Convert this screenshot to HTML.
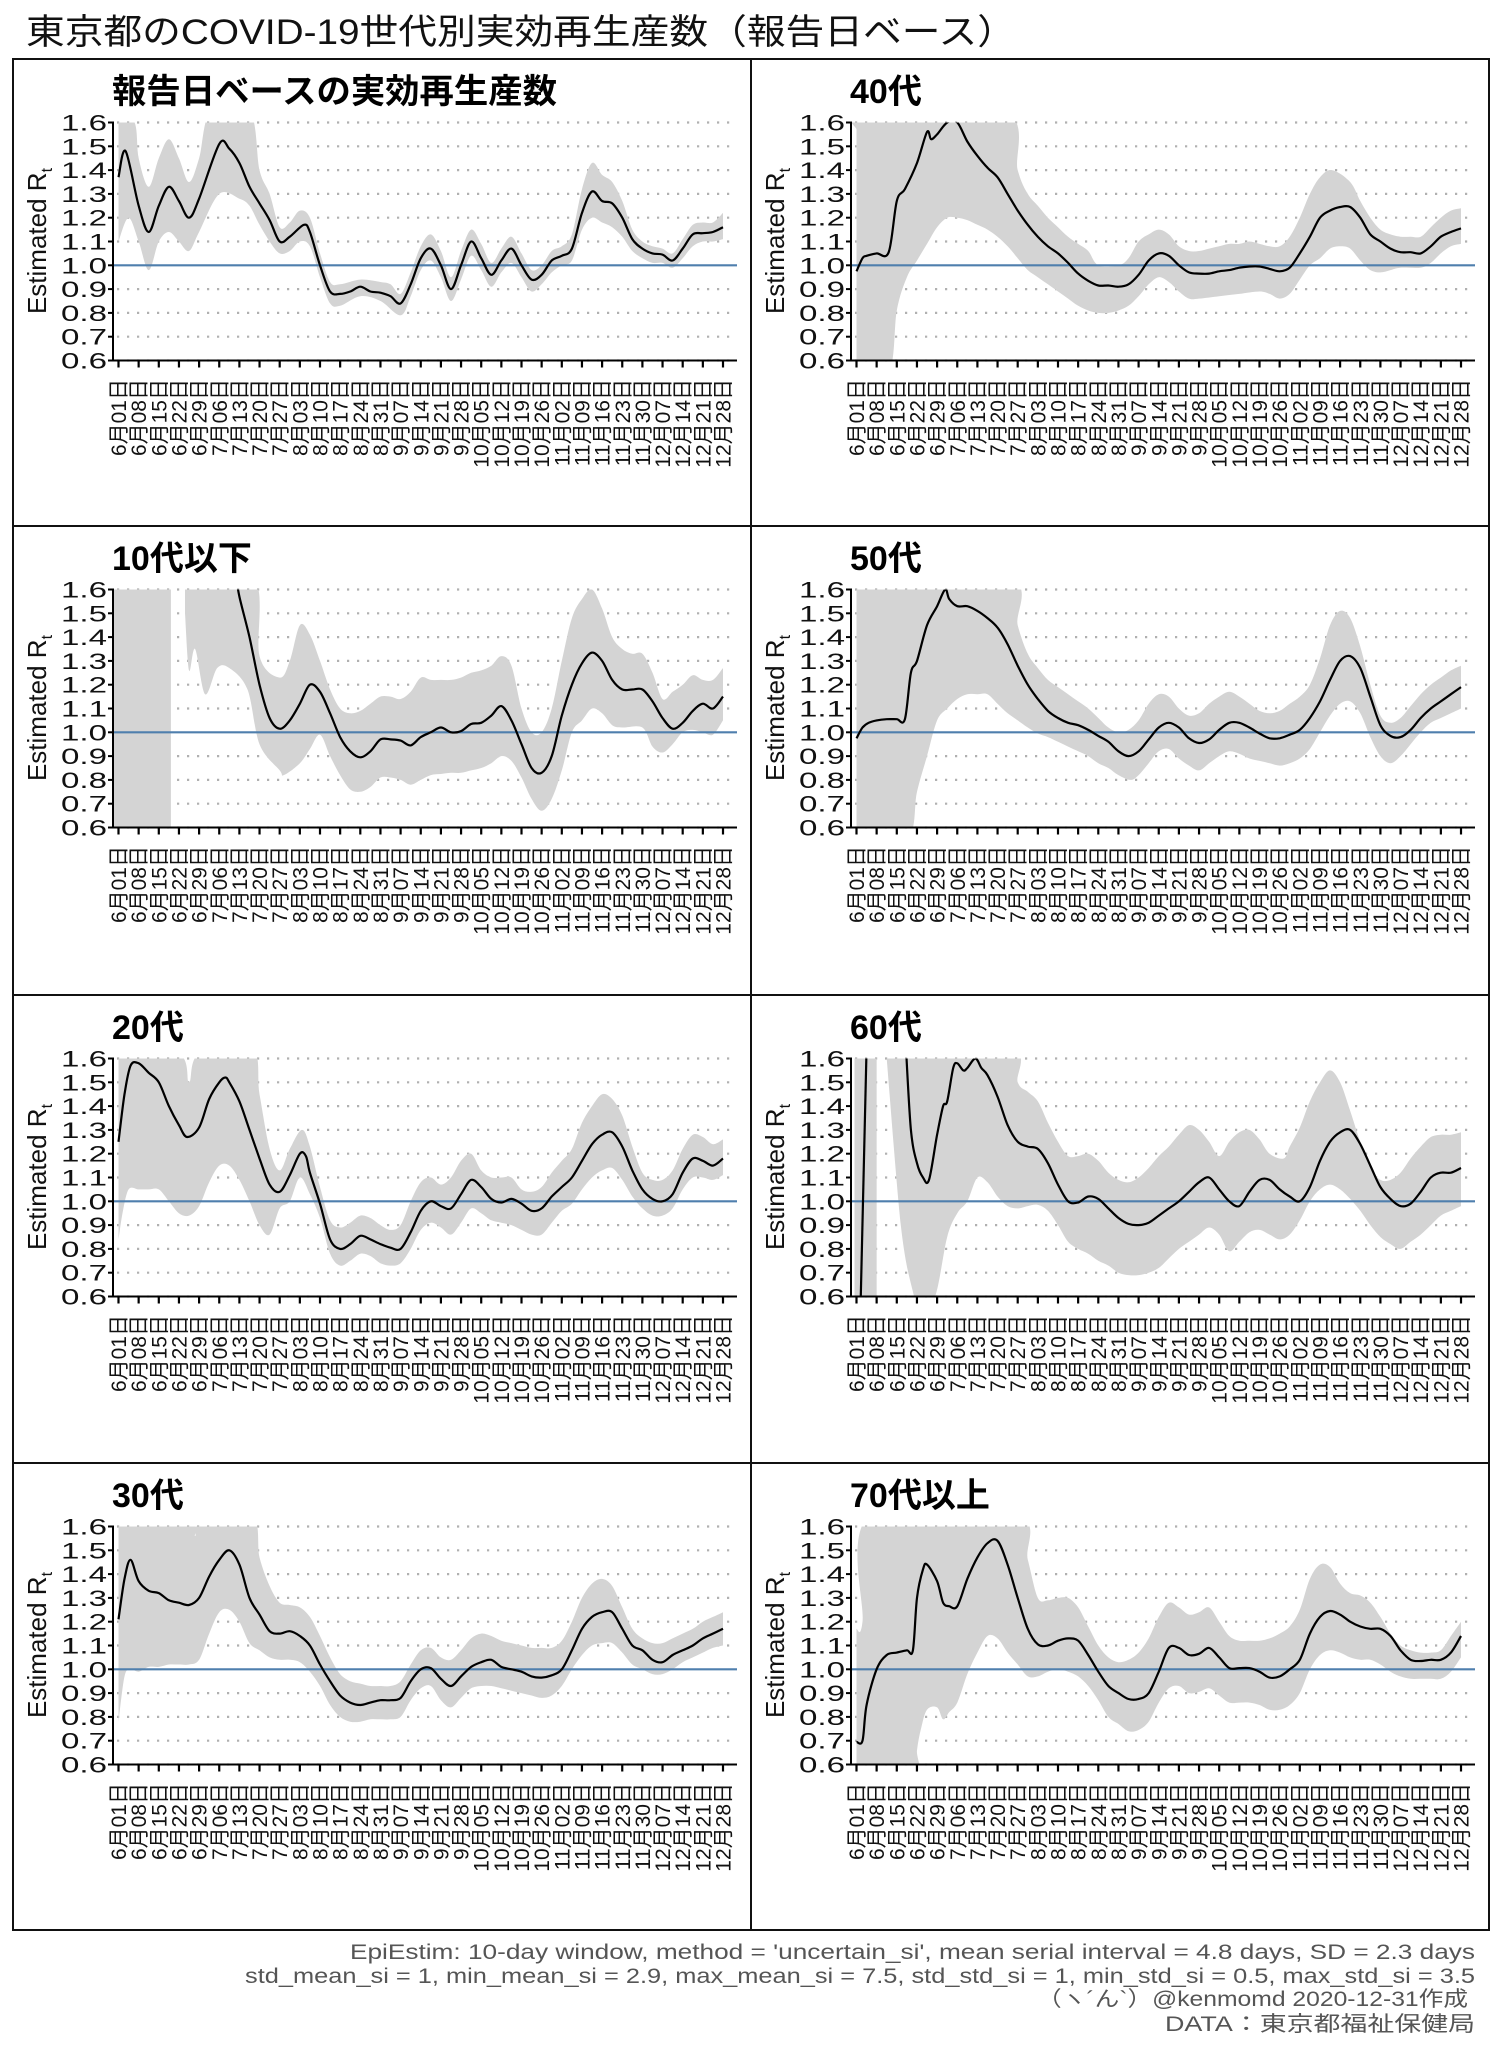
<!DOCTYPE html>
<html><head><meta charset="utf-8"><style>
html,body{margin:0;padding:0;background:#fff;}
svg{display:block;}
text{font-family:"Liberation Sans","Noto Sans CJK JP",sans-serif;}
</style></head><body>
<svg id="s" width="1502" height="2048" viewBox="0 0 1502 2048" xmlns="http://www.w3.org/2000/svg">
<rect width="1502" height="2048" fill="#fff"/>
<text x="26" y="44" font-size="35" textLength="990" lengthAdjust="spacingAndGlyphs" fill="#111">東京都のCOVID-19世代別実効再生産数（報告日ベース）</text>
<g id="panels"></g>
<rect x="13" y="59" width="1476" height="1871" fill="none" stroke="#111" stroke-width="2"/>
<line x1="751" y1="59" x2="751" y2="1930" stroke="#111" stroke-width="2"/>
<line x1="13" y1="526" x2="1489" y2="526" stroke="#111" stroke-width="2"/>
<line x1="13" y1="995" x2="1489" y2="995" stroke="#111" stroke-width="2"/>
<line x1="13" y1="1463" x2="1489" y2="1463" stroke="#111" stroke-width="2"/>
<g fill="#555" font-size="21" text-anchor="end">
<text x="1475" y="1959" textLength="1125" lengthAdjust="spacingAndGlyphs">EpiEstim: 10-day window, method = 'uncertain_si', mean serial interval = 4.8 days, SD = 2.3 days</text>
<text x="1475" y="1983" textLength="1230" lengthAdjust="spacingAndGlyphs">std_mean_si = 1, min_mean_si = 2.9, max_mean_si = 7.5,  std_std_si = 1, min_std_si = 0.5, max_std_si = 3.5</text>
<text x="1468" y="2006" textLength="431" lengthAdjust="spacingAndGlyphs">（ヽ´ん`）@kenmomd 2020-12-31作成</text>
<text x="1475" y="2031" textLength="310" lengthAdjust="spacingAndGlyphs">DATA：東京都福祉保健局</text>
</g>
</svg>
<script>
(function(){
var NS="http://www.w3.org/2000/svg";
function P(s){return s.trim().split(/\s+/).map(function(t){return t.split(':').map(Number);});}
var panels=[
{t:"報告日ベースの実効再生産数",w:445,r:0,c:0,
 lines:["0:1.37 0.35:1.48 1:1.25 1.5:1.14 2:1.25 2.5:1.33 3:1.27 3.5:1.2 4:1.28 5:1.51 5.5:1.49 6:1.43 6.5:1.33 7:1.26 7.5:1.19 8:1.1 8.5:1.12 9.2:1.17 9.5:1.14 10:1 10.5:0.89 11:0.88 11.5:0.89 12:0.91 12.5:0.89 13:0.885 13.5:0.87 14:0.84 14.5:0.92 15:1.03 15.5:1.07 16:1 16.5:0.9 17:1 17.5:1.1 18:1.03 18.5:0.96 19:1.02 19.5:1.07 20:1 20.5:0.94 21:0.96 21.5:1.02 22:1.04 22.5:1.07 23:1.22 23.5:1.31 24:1.27 24.5:1.26 25:1.2 25.5:1.11 26:1.07 26.5:1.05 27:1.045 27.5:1.02 28:1.07 28.5:1.13 29:1.135 29.5:1.14 30:1.16"],
 bands:[{hi:"0:1.65 0.8:1.6 1:1.45 1.5:1.33 2:1.45 2.5:1.53 3:1.45 3.5:1.35 4:1.45 4.6:1.65 6.5:1.65 7:1.4 7.5:1.3 8:1.16 8.5:1.18 9:1.23 9.5:1.2 10:1.05 10.5:0.93 11:0.92 12:0.94 13:0.93 13.5:0.92 14:0.88 14.5:0.97 15:1.08 15.5:1.13 16:1.06 16.5:0.95 17:1.06 17.5:1.15 18:1.09 18.5:1.01 19:1.07 19.5:1.12 20:1.05 20.5:0.98 21:1 21.5:1.06 22:1.08 22.5:1.13 23:1.32 23.5:1.43 24:1.38 24.5:1.35 25:1.27 25.5:1.15 26:1.1 26.5:1.08 27:1.07 27.5:1.05 28:1.11 28.5:1.17 29:1.18 29.5:1.18 30:1.22",
 lo:"0:1.1 0.5:1.2 1:1.1 1.5:0.98 2:1.1 2.5:1.14 3:1.1 3.5:1.06 4:1.14 5:1.3 6:1.28 6.5:1.25 7:1.17 7.5:1.1 8:1.05 8.5:1.06 9:1.1 9.5:1.08 10:0.95 10.5:0.84 11:0.83 12:0.87 13:0.85 14:0.79 14.5:0.87 15:0.98 15.5:1.02 16:0.95 16.5:0.85 17:0.94 17.5:1.04 18:0.98 18.5:0.91 19:0.97 19.5:1.01 20:0.95 20.5:0.89 21:0.92 21.5:0.97 22:1 22.5:1.02 23:1.15 23.5:1.2 24:1.18 24.5:1.16 25:1.12 25.5:1.06 26:1.03 26.5:1.01 27:1.01 27.5:0.99 28:1.03 28.5:1.08 29:1.1 29.5:1.1 30:1.11"}]},
{t:"40代",r:0,c:1,
 lines:["0:0.975 0.3:1.03 0.5:1.04 1:1.05 1.6:1.055 2:1.27 2.4:1.32 3:1.43 3.5:1.56 3.7:1.53 4:1.55 4.5:1.6 5:1.6 5.5:1.52 6:1.46 6.5:1.41 7:1.37 7.5:1.3 8:1.23 8.5:1.17 9:1.12 9.5:1.08 10:1.05 10.5:1.01 11:0.965 11.5:0.935 12:0.915 12.5:0.915 13:0.91 13.5:0.92 14:0.96 14.5:1.02 15:1.05 15.5:1.04 16:1 16.5:0.97 17:0.965 17.5:0.965 18:0.975 18.5:0.98 19:0.99 19.5:0.995 20:0.995 20.5:0.985 21:0.975 21.5:0.99 22:1.05 22.5:1.12 23:1.2 23.5:1.23 24:1.245 24.5:1.245 25:1.2 25.5:1.13 26:1.1 26.5:1.07 27:1.055 27.5:1.055 28:1.05 28.5:1.08 29:1.12 29.5:1.14 30:1.155"],
 bands:[{hi:"0:1.57 0.2:1.65 7.3:1.65 8:1.4 8.5:1.3 9:1.25 9.5:1.2 10:1.16 10.5:1.12 11:1.09 11.5:1.06 12:1 13:1 13.5:1.03 14:1.1 14.5:1.13 15:1.15 15.5:1.13 16:1.08 16.5:1.06 17:1.06 17.5:1.07 18:1.08 18.5:1.09 19:1.09 19.5:1.1 20:1.09 20.5:1.08 21:1.08 21.5:1.12 22:1.2 22.5:1.3 23:1.37 23.6:1.4 24.5:1.35 25:1.27 25.5:1.2 26:1.15 26.5:1.13 27:1.12 27.5:1.12 28:1.12 28.5:1.16 29:1.2 29.5:1.23 30:1.24",
 lo:"0:0.55 1.6:0.55 2:0.81 2.5:0.95 3:1.02 3.5:1.09 4:1.16 4.5:1.2 5:1.2 5.5:1.19 6:1.17 6.5:1.15 7:1.12 7.5:1.08 8:1.03 8.5:0.98 9:0.95 9.5:0.92 10:0.89 10.5:0.86 11:0.83 11.5:0.81 12:0.8 12.5:0.8 13:0.81 13.5:0.83 14:0.87 14.5:0.92 15:0.95 15.5:0.93 16:0.89 16.5:0.86 17:0.86 18:0.87 19:0.88 20:0.89 20.5:0.88 21:0.86 21.5:0.88 22:0.94 22.5:1 23:1.03 23.5:1.07 24:1.08 24.5:1.07 25:1.02 25.5:0.98 26:0.97 26.5:0.98 27:0.99 28:0.99 28.5:1.01 29:1.05 29.5:1.08 30:1.09"}]},
{t:"10代以下",r:1,c:0,
 lines:["5.85:1.65 6:1.57 6.5:1.4 7:1.2 7.5:1.06 8:1.015 8.5:1.05 9:1.12 9.5:1.2 10:1.17 10.5:1.08 11:0.98 11.5:0.92 12:0.895 12.5:0.92 13:0.97 13.5:0.97 14:0.965 14.5:0.945 15:0.98 15.5:1 16:1.02 16.5:1 17:1.005 17.5:1.035 18:1.04 18.5:1.07 19:1.11 19.5:1.05 20:0.95 20.5:0.85 21:0.83 21.5:0.9 22:1.07 22.5:1.2 23:1.29 23.5:1.335 24:1.3 24.5:1.22 25:1.18 25.5:1.18 26:1.18 26.5:1.13 27:1.06 27.5:1.015 28:1.04 28.5:1.09 29:1.12 29.5:1.1 30:1.15"],
 bands:[{hi:"-0.25:1.65 2.6:1.65",lo:"-0.25:0.55 2.6:0.55",straight:1},
 {hi:"3.3:1.65 6.7:1.65 7:1.32 8:1.23 8.5:1.3 9:1.45 9.5:1.41 10:1.3 10.5:1.18 11:1.1 11.5:1.08 12:1.09 12.5:1.12 13:1.15 13.5:1.15 14:1.14 14.5:1.17 15:1.23 15.5:1.22 16:1.22 16.5:1.22 17:1.23 17.5:1.25 18:1.26 18.5:1.28 19:1.32 19.5:1.28 20:1.1 20.5:1 21:1 21.5:1.1 22:1.3 22.5:1.48 23:1.56 23.5:1.6 24:1.52 24.5:1.4 25:1.35 25.5:1.33 26:1.33 26.5:1.25 27:1.14 27.5:1.17 28:1.2 28.5:1.24 29:1.22 29.5:1.22 30:1.27",
 lo:"3.3:1.5 3.5:1.26 3.8:1.35 4.3:1.16 4.9:1.27 5.5:1.27 6.4:1.18 7:0.95 8:0.84 8.2:0.82 9:0.87 9.5:0.93 10:0.99 10.5:0.9 11:0.82 11.5:0.76 12:0.75 12.5:0.77 13:0.81 13.5:0.81 14:0.8 14.5:0.78 15:0.8 15.5:0.82 16:0.825 16.5:0.83 17:0.83 17.5:0.84 18:0.85 18.5:0.87 19:0.9 19.5:0.88 20:0.81 20.5:0.72 21:0.67 21.5:0.72 22:0.84 22.5:1 23:1.05 23.5:1.1 24:1.08 24.5:1.03 25:1.02 26:1.02 26.5:0.94 27:0.915 27.5:0.95 28:1 28.5:1.01 29:1 29.5:0.99 30:1.05"}]},
{t:"50代",r:1,c:1,
 lines:["0:0.975 0.3:1.02 0.6:1.04 1:1.05 1.5:1.055 2:1.055 2.4:1.055 2.7:1.25 3:1.3 3.5:1.45 4:1.53 4.4:1.6 4.6:1.56 5:1.53 5.5:1.53 6:1.51 6.5:1.48 7:1.44 7.5:1.37 8:1.28 8.5:1.2 9:1.14 9.5:1.09 10:1.06 10.5:1.04 11:1.03 11.5:1.01 12:0.985 12.5:0.96 13:0.92 13.5:0.9 14:0.92 14.5:0.97 15:1.02 15.5:1.04 16:1.02 16.5:0.975 17:0.955 17.5:0.97 18:1.01 18.5:1.04 19:1.04 19.5:1.02 20:0.995 20.5:0.975 21:0.975 21.5:0.99 22:1.01 22.5:1.06 23:1.13 23.5:1.22 24:1.3 24.5:1.32 25:1.27 25.5:1.15 26:1.03 26.5:0.985 27:0.98 27.5:1.01 28:1.06 28.5:1.1 29:1.13 29.5:1.16 30:1.19"],
 bands:[{hi:"0:1.65 7.5:1.65 8:1.45 8.5:1.33 9:1.27 9.5:1.22 10:1.19 10.5:1.16 11:1.13 11.5:1.1 12:1.06 12.5:1.02 13:1 13.5:1.01 14:1.05 14.5:1.12 15:1.16 15.5:1.15 16:1.1 16.5:1.07 17:1.08 17.5:1.12 18:1.15 18.5:1.17 19:1.15 19.5:1.12 20:1.09 20.5:1.08 21:1.09 21.5:1.12 22:1.15 22.5:1.2 23:1.31 23.5:1.45 24:1.51 24.5:1.48 25:1.36 25.5:1.2 26:1.07 26.5:1.04 27:1.06 27.5:1.11 28:1.16 28.5:1.2 29:1.23 29.5:1.26 30:1.28",
 lo:"0:0.55 2.5:0.55 3:0.75 3.5:0.9 4:1.05 4.5:1.1 5:1.14 5.5:1.16 6:1.16 6.5:1.16 7:1.12 7.5:1.08 8:1.05 8.5:1.02 9:0.995 9.5:0.98 10:0.96 10.5:0.94 11:0.92 11.5:0.9 12:0.87 12.5:0.85 13:0.82 13.6:0.8 14:0.82 14.5:0.87 15:0.92 15.5:0.93 16:0.89 16.5:0.86 17:0.84 17.5:0.87 18:0.9 18.5:0.92 19:0.91 19.5:0.89 20:0.88 20.5:0.87 21:0.86 21.5:0.87 22:0.89 22.5:0.93 23:1 23.5:1.07 24:1.12 24.5:1.13 25:1.08 25.5:0.98 26:0.9 26.5:0.87 27:0.9 27.5:0.95 28:1 28.5:1.04 29:1.06 29.5:1.08 30:1.1"}]},
{t:"20代",r:2,c:0,
 lines:["0:1.25 0.3:1.45 0.6:1.57 1:1.58 1.5:1.54 2:1.5 2.5:1.4 3:1.32 3.4:1.27 4:1.31 4.5:1.43 5:1.5 5.3:1.52 5.5:1.5 6:1.42 6.5:1.3 7:1.18 7.5:1.07 8:1.04 8.5:1.11 9:1.2 9.3:1.19 9.5:1.12 10:0.99 10.5:0.84 11:0.8 11.5:0.82 12:0.855 12.5:0.84 13:0.82 13.5:0.805 14:0.8 14.5:0.87 15:0.96 15.5:1 16:0.98 16.5:0.97 17:1.03 17.5:1.09 18:1.06 18.5:1.01 19:0.995 19.5:1.01 20:0.99 20.5:0.96 21:0.97 21.5:1.02 22:1.06 22.5:1.1 23:1.17 23.5:1.24 24:1.28 24.5:1.29 25:1.23 25.5:1.13 26:1.05 26.5:1.01 27:1 27.5:1.03 28:1.12 28.5:1.18 29:1.17 29.5:1.15 30:1.18"],
 bands:[{hi:"0:1.65 3:1.62 3.5:1.5 4:1.62 6.6:1.65 7:1.45 7.5:1.22 8:1.13 8.5:1.22 9.1:1.3 9.5:1.23 10:1.06 10.5:0.92 11:0.89 11.5:0.91 12:0.94 12.5:0.93 13:0.9 13.5:0.88 14:0.9 14.5:1 15:1.08 15.5:1.1 16:1.07 16.5:1.1 17:1.17 17.5:1.2 18:1.13 18.5:1.1 19:1.1 19.5:1.1 20:1.05 20.5:1.04 21:1.06 21.5:1.12 22:1.17 22.5:1.22 23:1.33 23.5:1.4 24:1.45 24.5:1.43 25:1.36 25.5:1.23 26:1.12 26.5:1.09 27:1.09 27.5:1.13 28:1.22 28.5:1.28 29:1.27 29.5:1.24 30:1.26",
 lo:"0:0.84 0.2:0.95 0.5:1.05 1:1.05 1.5:1.05 2:1.05 2.5:1 3:0.95 3.5:0.94 4:0.98 4.5:1.08 5:1.15 5.5:1.15 6:1.09 6.5:1 7:0.9 7.5:0.86 8:0.97 8.5:1 9:1.1 9.5:1.03 10:0.93 10.5:0.78 11:0.73 11.5:0.75 12:0.78 12.5:0.77 13:0.74 13.5:0.73 14:0.74 14.5:0.8 15:0.88 15.5:0.91 16:0.89 16.5:0.86 17:0.91 17.5:0.97 18:0.95 18.5:0.92 19:0.91 19.5:0.9 20:0.88 20.5:0.86 21:0.86 21.5:0.91 22:0.96 22.5:0.99 23:1.05 23.5:1.1 24:1.13 24.5:1.14 25:1.09 25.5:1.02 26:0.97 26.5:0.94 27:0.94 27.5:0.97 28:1.05 28.5:1.1 29:1.1 29.5:1.09 30:1.11"}]},
{t:"60代",r:2,c:1,
 lines:["0.2:0.55 0.5:1.65","2.45:1.65 2.7:1.3 3:1.16 3.3:1.1 3.6:1.09 4:1.28 4.3:1.4 4.5:1.42 4.8:1.56 5:1.58 5.3:1.55 5.5:1.56 5.9:1.6 6.2:1.56 6.5:1.53 7:1.44 7.5:1.32 8:1.25 8.5:1.23 9:1.22 9.5:1.16 10:1.07 10.5:1 11:0.995 11.5:1.02 12:1.01 12.5:0.97 13:0.93 13.5:0.905 14:0.9 14.5:0.91 15:0.94 15.5:0.97 16:1 16.5:1.04 17:1.08 17.5:1.1 18:1.05 18.5:1 19:0.98 19.5:1.04 20:1.09 20.5:1.09 21:1.05 21.5:1.02 22:1 22.5:1.06 23:1.17 23.5:1.25 24:1.29 24.5:1.3 25:1.24 25.5:1.15 26:1.06 26.5:1.01 27:0.98 27.5:0.99 28:1.04 28.5:1.1 29:1.12 29.5:1.12 30:1.14"],
 bands:[{hi:"-0.1:1.65 1:1.65",lo:"-0.1:0.55 1:0.55",straight:1},
 {hi:"1.5:1.65 7.6:1.65 8:1.5 8.5:1.46 9:1.42 9.5:1.33 10:1.25 10.5:1.19 11:1.19 11.5:1.2 12:1.17 12.5:1.12 13:1.09 13.5:1.08 14:1.1 14.5:1.14 15:1.19 15.5:1.23 16:1.28 16.5:1.32 17:1.3 17.5:1.25 18:1.19 18.5:1.25 19:1.29 19.5:1.3 20:1.26 20.5:1.2 21.2:1.18 21.5:1.23 22:1.31 22.5:1.42 23:1.5 23.5:1.55 24:1.5 24.5:1.38 25:1.25 25.5:1.14 26:1.09 26.5:1.09 27:1.12 27.5:1.18 28:1.23 28.5:1.27 29:1.28 29.5:1.28 30:1.29",
 lo:"1.5:1.6 2.2:0.9 2.8:0.62 3.2:0.55 3.9:0.6 4.5:0.85 5:0.95 5.5:1 6:1.1 6.5:1.08 7:1.02 7.5:0.98 8:0.97 8.5:0.98 9:0.985 9.5:0.96 10:0.9 10.5:0.83 11:0.8 11.5:0.78 12:0.75 12.5:0.73 13:0.7 13.5:0.69 14:0.69 14.5:0.7 15:0.72 15.5:0.76 16:0.8 16.5:0.83 17:0.86 17.5:0.89 18:0.86 18.5:0.79 19:0.83 19.5:0.87 20:0.88 20.5:0.86 21:0.84 21.5:0.86 22:0.92 22.5:1 23:1.05 23.5:1.07 24:1.05 24.5:1.01 25:0.96 25.5:0.9 26:0.85 26.5:0.82 27:0.8 27.5:0.83 28:0.86 28.5:0.9 29:0.94 29.5:0.96 30:0.98"}]},
{t:"30代",r:3,c:0,
 lines:["0:1.21 0.3:1.38 0.6:1.46 1:1.37 1.5:1.33 2:1.32 2.5:1.29 3:1.28 3.5:1.27 4:1.3 4.5:1.39 5:1.46 5.5:1.5 6:1.44 6.5:1.3 7:1.23 7.5:1.16 8:1.15 8.5:1.16 9:1.14 9.5:1.1 10:1.02 10.5:0.95 11:0.89 11.5:0.86 12:0.85 12.5:0.86 13:0.87 13.5:0.87 14:0.88 14.5:0.95 15:1 15.5:1.005 16:0.96 16.5:0.93 17:0.97 17.5:1.01 18:1.03 18.5:1.04 19:1.01 19.5:1 20:0.99 20.5:0.97 21:0.965 21.5:0.975 22:1 22.5:1.08 23:1.17 23.5:1.22 24:1.24 24.5:1.24 25:1.17 25.5:1.1 26:1.08 26.5:1.04 27:1.03 27.5:1.06 28:1.08 28.5:1.1 29:1.13 29.5:1.15 30:1.17"],
 bands:[{hi:"0:1.65 3.5:1.62 3.8:1.56 4.1:1.62 6.6:1.65 7:1.47 7.5:1.35 8:1.28 8.5:1.27 9:1.26 9.5:1.22 10:1.14 10.5:1.05 11:0.98 11.5:0.95 12:0.94 12.5:0.93 13:0.93 13.5:0.93 14:0.95 14.5:1.02 15:1.08 15.5:1.09 16:1.05 16.5:1.04 17:1.08 17.5:1.13 18:1.15 18.5:1.14 19:1.12 19.5:1.11 20:1.1 20.5:1.09 21:1.09 21.5:1.09 22:1.12 22.5:1.2 23:1.3 23.5:1.36 24:1.38 24.5:1.35 25:1.26 25.5:1.17 26:1.13 26.5:1.11 27:1.11 27.5:1.13 28:1.15 28.5:1.17 29:1.2 29.5:1.22 30:1.24",
 lo:"0:0.78 0.3:0.97 0.6:1 1:0.99 1.5:1.01 2:1.01 2.5:1.02 3:1.02 3.5:1.02 4:1.04 4.5:1.15 5:1.24 5.5:1.25 6:1.2 6.5:1.11 7:1.08 7.5:1.05 8:1.04 8.5:1.04 9:1.03 9.5:0.99 10:0.93 10.5:0.85 11:0.8 11.5:0.78 12:0.78 12.5:0.79 13:0.79 13.5:0.79 14:0.8 14.5:0.87 15:0.92 15.5:0.93 16:0.87 16.5:0.84 17:0.88 17.5:0.92 18:0.93 18.5:0.93 19:0.92 19.5:0.91 20:0.9 20.5:0.89 21:0.88 21.5:0.89 22:0.93 22.5:1 23:1.06 23.5:1.1 24:1.11 24.5:1.11 25:1.07 25.5:1.02 26:1 26.5:0.98 27:0.98 27.5:1 28:1.03 28.5:1.05 29:1.07 29.5:1.09 30:1.1"}]},
{t:"70代以上",r:3,c:1,
 lines:["0:0.695 0.3:0.7 0.5:0.85 1:1 1.5:1.06 2:1.07 2.5:1.08 2.8:1.08 3:1.3 3.3:1.42 3.5:1.44 4:1.37 4.3:1.28 4.6:1.265 5:1.265 5.5:1.38 6:1.47 6.5:1.53 7:1.54 7.5:1.44 8:1.3 8.5:1.17 9:1.105 9.5:1.1 10:1.12 10.5:1.13 11:1.12 11.5:1.06 12:0.99 12.5:0.93 13:0.9 13.5:0.875 14:0.875 14.5:0.9 15:0.99 15.5:1.09 16:1.09 16.5:1.06 17:1.065 17.5:1.09 18:1.05 18.5:1.005 19:1.005 19.5:1.005 20:0.99 20.5:0.965 21:0.97 21.5:1 22:1.04 22.5:1.15 23:1.22 23.5:1.245 24:1.23 24.5:1.2 25:1.18 25.5:1.17 26:1.17 26.5:1.14 27:1.08 27.5:1.04 28:1.035 28.5:1.04 29:1.04 29.5:1.07 30:1.14"],
 bands:[{hi:"0:1.17 0.3:1.2 0.7:1.65 7.9:1.65 8.5:1.46 9:1.3 9.5:1.29 10:1.3 10.5:1.3 11:1.26 11.5:1.18 12:1.1 12.5:1.05 13:1.03 13.5:1.04 14:1.07 14.5:1.13 15:1.22 15.5:1.28 16:1.26 16.5:1.23 17:1.24 17.5:1.26 18:1.2 18.5:1.14 19:1.12 19.5:1.12 20:1.12 20.5:1.13 21:1.15 21.5:1.18 22:1.25 22.5:1.38 23:1.44 23.5:1.43 24:1.36 24.5:1.32 25:1.31 25.5:1.28 26:1.22 26.5:1.15 27:1.1 27.5:1.08 28:1.07 28.5:1.07 29:1.08 29.5:1.14 30:1.2",
 lo:"0:0.55 2.9:0.55 3:0.66 3.2:0.75 3.5:0.83 4:0.84 4.3:0.79 4.6:0.82 5:0.86 5.5:0.98 6:1.07 6.5:1.14 7:1.13 7.5:1.07 8:1.02 8.5:0.97 9:0.97 9.5:0.99 10:1 10.5:0.99 11:0.97 11.5:0.93 12:0.87 12.5:0.8 13:0.77 13.5:0.74 14:0.745 14.5:0.78 15:0.86 15.5:0.92 16:0.93 16.5:0.9 17:0.905 17.5:0.92 18:0.89 18.5:0.86 19:0.86 19.5:0.86 20:0.85 20.5:0.83 21:0.83 21.5:0.85 22:0.9 22.5:1 23:1.06 23.5:1.08 24:1.07 24.5:1.05 25:1.04 25.5:1.04 26:1.02 26.5:0.99 27:0.97 27.5:0.96 28:0.96 28.5:0.96 29:0.96 29.5:0.99 30:1.05"}]}
];
var rowTop=[59,526,995,1463];
var dates=[];
var md=[[6,[1,8,15,22,29]],[7,[6,13,20,27]],[8,[3,10,17,24,31]],[9,[7,14,21,28]],[10,[5,12,19,26]],[11,[2,9,16,23,30]],[12,[7,14,21,28]]];
md.forEach(function(m){m[1].forEach(function(d){dates.push(m[0]+"月"+(d<10?"0":"")+d+"日");});});
var g=document.getElementById("panels");
function el(tag,attrs,txt){var e=document.createElementNS(NS,tag);for(var k in attrs)e.setAttribute(k,attrs[k]);if(txt!=null)e.textContent=txt;return e;}
function smooth(pts,start){
 var d=start?("M"+pts[0][0].toFixed(1)+","+pts[0][1].toFixed(1)):("L"+pts[0][0].toFixed(1)+","+pts[0][1].toFixed(1));
 for(var i=0;i<pts.length-1;i++){
  var p0=pts[Math.max(0,i-1)],p1=pts[i],p2=pts[i+1],p3=pts[Math.min(pts.length-1,i+2)];
  var c1x=p1[0]+(p2[0]-p0[0])/6,c1y=p1[1]+(p2[1]-p0[1])/6,c2x=p2[0]-(p3[0]-p1[0])/6,c2y=p2[1]-(p3[1]-p1[1])/6;
  d+="C"+c1x.toFixed(1)+","+c1y.toFixed(1)+" "+c2x.toFixed(1)+","+c2y.toFixed(1)+" "+p2[0].toFixed(1)+","+p2[1].toFixed(1);
 }
 return d;
}
panels.forEach(function(p,pi){
 var L=p.c?751:13, T=rowTop[p.r];
 var ax=L+100, x0=L+105.5, dx=20.15, yTop=T+63.5, yBot=T+301.5, xr=L+724;
 function X(i){return x0+dx*i;} function Y(v){return yTop+(1.6-v)*238;}
 var G=el("g",{});
 var cid="c"+pi;
 var cp=el("clipPath",{id:cid}); cp.appendChild(el("rect",{x:ax,y:yTop,width:xr-ax,height:yBot-yTop})); G.appendChild(cp);
 for(var k=0;k<=10;k++){var v=0.6+k*0.1; if(k==4)continue;
  G.appendChild(el("line",{x1:ax+4,y1:Y(v),x2:xr,y2:Y(v),stroke:"#b0b0b0","stroke-width":2.2,"stroke-dasharray":"2.2 7.8"}));}
 var cg=el("g",{"clip-path":"url(#"+cid+")"});
 p.bands.forEach(function(b){
  var hi=P(b.hi).map(function(q){return [X(q[0]),Y(q[1])];});
  var lo=P(b.lo).map(function(q){return [X(q[0]),Y(q[1])];}).reverse();
  var d;
  if(b.straight){d="M"+hi.map(function(q){return q.join(",");}).join("L")+"L"+lo.map(function(q){return q.join(",");}).join("L")+"Z";}
  else d=smooth(hi,true)+smooth(lo,false)+"Z";
  cg.appendChild(el("path",{d:d,fill:"#d4d4d4"}));
 });
 cg.appendChild(el("line",{x1:ax,y1:Y(1),x2:xr,y2:Y(1),stroke:"#4f7fad","stroke-width":2.2}));
 p.lines.forEach(function(s){
  var pts=P(s).map(function(q){return [X(q[0]),Y(q[1])];});
  cg.appendChild(el("path",{d:smooth(pts,true),fill:"none",stroke:"#000","stroke-width":2.2,"stroke-linejoin":"round"}));
 });
 G.appendChild(cg);
 G.appendChild(el("line",{x1:ax,y1:yTop-1,x2:ax,y2:yBot+1,stroke:"#000","stroke-width":2}));
 G.appendChild(el("line",{x1:ax-1,y1:yBot,x2:xr,y2:yBot,stroke:"#000","stroke-width":2}));
 for(var k=0;k<=10;k++){var v=0.6+k*0.1, y=Y(v);
  G.appendChild(el("line",{x1:ax-5,y1:y,x2:ax,y2:y,stroke:"#000","stroke-width":2}));
  G.appendChild(el("text",{x:ax-6,y:y+8,"font-size":22,"text-anchor":"end",fill:"#111",textLength:46,lengthAdjust:"spacingAndGlyphs"},v.toFixed(1)));}
 for(var i=0;i<=30;i++){var x=X(i);
  G.appendChild(el("line",{x1:x,y1:yBot,x2:x,y2:yBot+7,stroke:"#000","stroke-width":2.2}));
  G.appendChild(el("text",{x:0,y:0,"font-size":21,"text-anchor":"end",fill:"#111",transform:"translate("+(x+7.5)+","+(T+320)+") rotate(-90)"},dates[i]));}
 var yl=el("text",{x:0,y:0,"font-size":26,"text-anchor":"middle",fill:"#111",transform:"translate("+(L+33)+","+(T+182)+") rotate(-90)"});
 yl.appendChild(document.createTextNode("Estimated R"));
 var sub=el("tspan",{"font-size":16,dy:6},"t"); yl.appendChild(sub);
 G.appendChild(yl);
 var ta={x:L+99,y:T+44,"font-size":34,"font-weight":"bold",fill:"#000"};
 if(p.w){ta.textLength=p.w;ta.lengthAdjust="spacingAndGlyphs";}
 G.appendChild(el("text",ta,p.t));
 g.appendChild(G);
});
})();
</script>
</body></html>
